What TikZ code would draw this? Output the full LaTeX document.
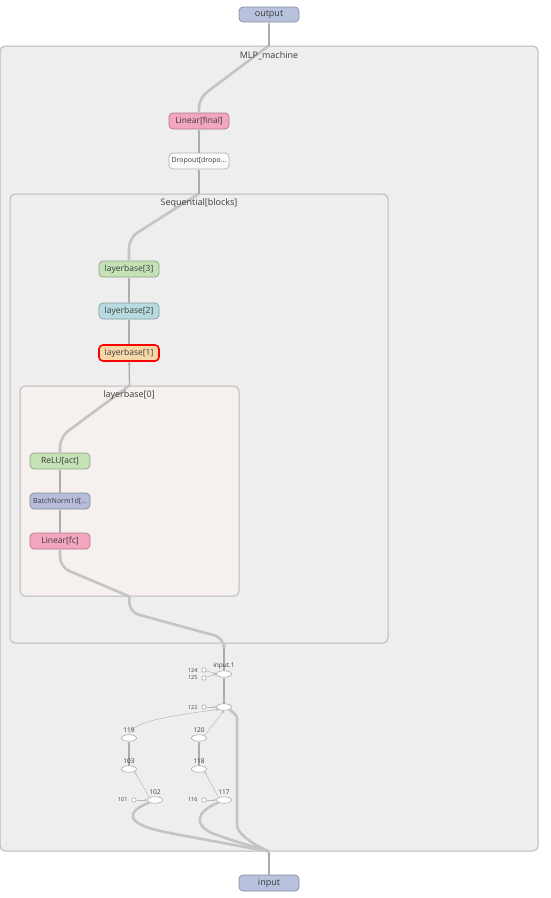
\documentclass[tikz,border=0pt]{standalone}
\usepackage{fontspec}
\setmainfont{Open Sans}
\usetikzlibrary{arrows.meta,shapes.geometric}

\definecolor{grpfill}{RGB}{238,238,238}
\definecolor{grpline}{RGB}{186,186,186}
\definecolor{lbfill}{RGB}{246,241,238}
\definecolor{bigedge}{RGB}{196,196,196}
\definecolor{midedge}{RGB}{172,172,172}
\definecolor{txtgray}{RGB}{60,60,60}
\definecolor{iofill}{RGB}{184,194,221}
\definecolor{linfill}{RGB}{242,166,191}
\definecolor{actfill}{RGB}{197,226,182}
\definecolor{cyanfill}{RGB}{183,219,224}
\definecolor{peachfill}{RGB}{246,215,167}
\definecolor{bnfill}{RGB}{181,189,219}
\definecolor{dropfill}{RGB}{250,250,250}

\tikzset{
  module/.style={rounded corners=4pt, minimum width=60pt, minimum height=16pt,
    inner sep=0pt, fill=#1, draw=#1!72!black, line width=0.7pt,
    font=\fontsize{8.5}{9}\selectfont, text=txtgray},
  group/.style={rounded corners=5pt, draw=grpline, line width=1pt, inner sep=0pt},
  grouplabel/.style={font=\fontsize{9}{10}\selectfont, text=txtgray},
  opnode/.style={ellipse, draw=gray!75, fill=white, line width=0.5pt,
    minimum width=15pt, minimum height=6.5pt, inner sep=0pt},
  constnode/.style={circle, draw=gray!75, fill=white, line width=0.5pt,
    minimum size=4.5pt, inner sep=0pt},
  oplabel/.style={font=\fontsize{6.5}{7}\selectfont, text=txtgray},
  numlabel/.style={font=\fontsize{5.5}{6}\selectfont, text=txtgray, anchor=east},
  bigflow/.style={draw=bigedge, line width=2.6pt, rounded corners=10pt},
  flow/.style={draw=midedge, line width=1.3pt, -{Stealth[length=3pt,width=3pt]}},
  thinflow/.style={draw=gray!55, line width=0.5pt, -{Stealth[length=3pt,width=2.5pt]}},
}

\begin{document}
\begin{tikzpicture}[x=1pt, y=-1pt]
\useasboundingbox (0,0) rectangle (550,898);

% ============================================================
%  GROUPS  --  MLP_machine > Sequential[blocks] > layerbase[0]
% ============================================================
% MLP_machine: x 0..538, y 46..851
\node[group, fill=grpfill, minimum width=538pt, minimum height=805pt] (mlp) at (269,448.5) {};
% Sequential[blocks]: x 10..388, y 194..643
\node[group, fill=grpfill, minimum width=378pt, minimum height=449pt] (seq) at (199,418.5) {};
% layerbase[0]: x 20..239, y 386..596
\node[group, fill=lbfill, minimum width=219pt, minimum height=210pt] (lb0) at (129.5,491) {};

\coordinate (seqin) at (224,643);

% ============================================================
%  MODULE NODES
% ============================================================
\node[module=iofill, minimum height=15pt, font=\fontsize{9}{10}\selectfont] (outp) at (269,14.5) {output};
\node[module=linfill] (linfin) at (199,121) {Linear[final]};
\node[module=dropfill, draw=gray!60, font=\fontsize{7}{8}\selectfont] (drop) at (199,161) {Dropout[dropo...};
\node[module=actfill] (lb3) at (129,269) {layerbase[3]};
\node[module=cyanfill] (lb2) at (129,311) {layerbase[2]};
\node[module=peachfill, draw=red, line width=1.6pt] (lb1) at (129,353) {layerbase[1]};
\node[module=actfill] (relu) at (60,461) {ReLU[act]};
\node[module=bnfill, font=\fontsize{7}{8}\selectfont] (bn) at (60,501) {BatchNorm1d[...};
\node[module=linfill] (linfc) at (60,541) {Linear[fc]};
\node[module=iofill, font=\fontsize{9}{10}\selectfont] (inp) at (269,883) {input};

% ============================================================
%  OPS  --  small ellipses and constants
% ============================================================
\node[opnode] (in1) at (224,674) {};
\node[constnode] (c124) at (204,670) {};
\node[constnode] (c125) at (204,678) {};
\node[opnode] (n122) at (224,707) {};
\node[constnode] (c122) at (204,707) {};
\node[opnode] (n119) at (129,738) {};
\node[opnode] (n120) at (199,738) {};
\node[opnode] (n103) at (129,769) {};
\node[opnode] (n118) at (199,769) {};
\node[opnode] (n102) at (155,800) {};
\node[constnode] (c101) at (134,800) {};
\node[opnode] (n117) at (224,800) {};
\node[constnode] (c116) at (204,800) {};

% ============================================================
%  EDGES  --  input side
% ============================================================
\draw[flow] (inp.north) -- (mlp.south);
\draw[bigflow] (mlp.south) -- (175,834) .. controls (125,824) and (125,812) .. (n102.south west);
\draw[bigflow] (mlp.south) -- (225,838) .. controls (193,826) and (195,812) .. (n117.south west);
\draw[bigflow] (mlp.south) .. controls (248,842) and (237,832) .. (237,815)
  -- (237,728) .. controls (237,716) and (234,713) .. (n122.south east);

\draw[thinflow] (c101) -- (n102);
\draw[thinflow] (c116) -- (n117);
\draw[thinflow] (n102.north west) -- (n103.south east);
\draw[thinflow] (n117.north west) -- (n118.south east);
\draw[flow] (n103) -- (n119);
\draw[flow] (n118) -- (n120);
\draw[thinflow] (n119.north) .. controls (131,725) and (150,718) .. (n122.south west);
\draw[thinflow] (n120.north east) -- (n122.south);
\draw[thinflow] (c122) -- (n122);
\draw[flow] (n122) -- (in1);
\draw[thinflow] (c124) -- (in1.west);
\draw[thinflow] (c125) -- (in1.west);
\draw[flow] (in1) -- (seqin);

% ============================================================
%  EDGES  --  through the blocks
% ============================================================
\draw[bigflow] (seqin) -- (224,638) -- (129,612) -- (lb0.south);
\draw[bigflow] (lb0.south) -- (60,567) -- (linfc.south);
\draw[flow] (linfc) -- (bn);
\draw[flow] (bn) -- (relu);
\draw[bigflow] (relu.north) -- (60,437) -- (lb0.north);
\draw[flow] (lb0.north) -- (lb1);
\draw[flow] (lb1) -- (lb2);
\draw[flow] (lb2) -- (lb3);
\draw[bigflow] (lb3.north) -- (129,238) -- (seq.north);
\draw[flow] (seq.north) -- (drop);
\draw[flow] (drop) -- (linfin);
\draw[bigflow] (linfin.north) -- (199,98) -- (mlp.north);
\draw[flow] (mlp.north) -- (outp);

% ============================================================
%  LABELS  (on top of the edges)
% ============================================================
\node[grouplabel] (mlplbl) at (269,56) {MLP\_machine};
\node[grouplabel] (seqlbl) at (199,203) {Sequential[blocks]};
\node[grouplabel] (lb0lbl) at (129,395) {layerbase[0]};

\node[oplabel] (in1lbl) at (224,665.5) {input.1};
\node[numlabel] (l124) at (201,670) {124};
\node[numlabel] (l125) at (201,678) {125};
\node[numlabel] (l122) at (201,707) {122};
\node[oplabel] (l119) at (129,730) {119};
\node[oplabel] (l120) at (199,730) {120};
\node[oplabel] (l103) at (129,761) {103};
\node[oplabel] (l118) at (199,761) {118};
\node[oplabel] (l102) at (155,792) {102};
\node[numlabel] (l101) at (131,800) {101};
\node[oplabel] (l117) at (224,792) {117};
\node[numlabel] (l116) at (201,800) {116};

\end{tikzpicture}
\end{document}
